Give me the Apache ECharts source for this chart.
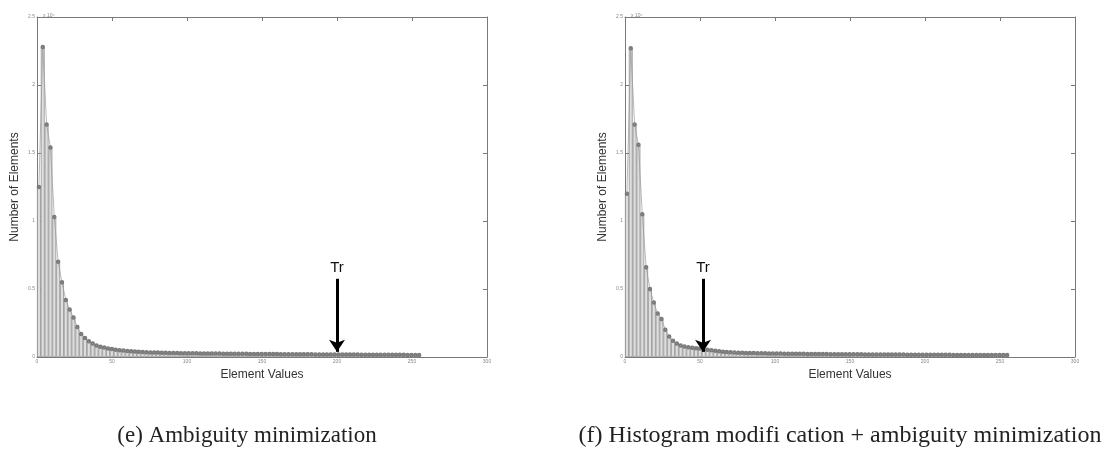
<!DOCTYPE html>
<html>
<head>
<meta charset="utf-8">
<script src="https://cdn.jsdelivr.net/npm/echarts@6/dist/echarts.min.js"></script>
<style>html,body{margin:0;padding:0;background:#fff}#c{width:1107px;height:449px}</style>
</head>
<body>
<div id="c"></div>
<script>
// ---- data ----
const BIN_WIDTH = 2.56;
const leftCounts = [12500, 22800, 17100, 15400, 10300, 7000, 5500, 4200, 3500, 2900,
 2200, 1700, 1400, 1150, 1000, 850, 760, 700, 630, 580,
 530, 500, 470, 440, 420, 400, 380, 365, 350, 340,
 330, 322, 315, 308, 300, 295, 290, 284, 280, 276,
 272, 268, 265, 261, 258, 255, 252, 249, 246, 243,
 240, 237, 235, 232, 230, 227, 225, 222, 220, 218,
 216, 214, 212, 210, 208, 206, 204, 202, 200, 198,
 196, 195, 193, 191, 190, 188, 186, 185, 183, 182,
 180, 178, 177, 175, 174, 172, 171, 169, 168, 166,
 165, 163, 162, 160, 159, 157, 156, 154, 153, 150];
const rightCounts = [12000, 22700, 17100, 15600, 10500, 6600, 5000, 4000, 3200, 2800,
 2000, 1500, 1200, 1000, 850, 780, 720, 680, 650, 620,
 580, 540, 500, 460, 420, 390, 370, 350, 335, 320,
 310, 302, 295, 288, 282, 276, 270, 265, 260, 256,
 252, 248, 244, 240, 237, 234, 231, 228, 225, 222,
 219, 216, 214, 211, 209, 206, 204, 202, 200, 198,
 196, 194, 192, 190, 188, 186, 184, 183, 181, 179,
 178, 176, 175, 173, 172, 170, 169, 167, 166, 164,
 163, 162, 160, 159, 158, 156, 155, 154, 152, 151,
 150, 149, 148, 146, 145, 144, 143, 142, 141, 140];
const xTicks = [0, 50, 100, 150, 200, 250, 300];
const yTicks = [0, 5000, 10000, 15000, 20000, 25000];
const thresholdLeft = 200;
const thresholdRight = 52;
const arrowTop = 5750;
const arrowBottom = 380;
const captions = ['(e) Ambiguity minimization', '(f) Histogram modifi cation + ambiguity minimization'];
const xTitle = 'Element Values';
const yTitle = 'Number of Elements';
const yExp = 'x 10\u2074';

// ---- build ----
const chart = echarts.init(document.getElementById('c'), null, {renderer: 'canvas'});
const toPairs = arr => arr.map((v, i) => [(i + 0.5) * BIN_WIDTH, v]);
const FONT = 'Liberation Sans, Arial, sans-serif';
const SERIF = 'Liberation Serif, Times New Roman, serif';
const axisGray = '#7a7a7a';

function xAxes(gi) {
  return [{
    type: 'value', gridIndex: gi, min: xTicks[0], max: xTicks[xTicks.length - 1], interval: 50,
    position: 'bottom',
    name: xTitle, nameLocation: 'middle', nameGap: 12,
    nameTextStyle: {fontFamily: FONT, fontSize: 12, color: '#333'},
    axisLine: {show: true, onZero: false, lineStyle: {color: axisGray, width: 1}},
    axisTick: {inside: true, length: 4, lineStyle: {color: axisGray}},
    axisLabel: {fontSize: 5, color: '#888', margin: 2, fontFamily: FONT},
    splitLine: {show: false}
  }, {
    type: 'value', gridIndex: gi, min: xTicks[0], max: xTicks[xTicks.length - 1], interval: 50,
    position: 'top',
    axisLine: {show: true, onZero: false, lineStyle: {color: axisGray, width: 1}},
    axisTick: {show: true, inside: true, length: 4, lineStyle: {color: axisGray}},
    axisLabel: {show: false}, splitLine: {show: false}
  }];
}
function yAxes(gi) {
  return [{
    type: 'value', gridIndex: gi, min: yTicks[0], max: yTicks[yTicks.length - 1], interval: 5000,
    position: 'left',
    name: yTitle, nameLocation: 'middle', nameGap: 16,
    nameTextStyle: {fontFamily: FONT, fontSize: 12, color: '#333'},
    axisLine: {show: true, onZero: false, lineStyle: {color: axisGray, width: 1}},
    axisTick: {show: true, inside: true, length: 4, lineStyle: {color: axisGray}},
    axisLabel: {fontSize: 5, color: '#888', margin: 2, fontFamily: FONT,
      formatter: v => String(v / 10000)},
    splitLine: {show: false}
  }, {
    type: 'value', gridIndex: gi, min: yTicks[0], max: yTicks[yTicks.length - 1], interval: 5000,
    position: 'right',
    axisLine: {show: true, onZero: false, lineStyle: {color: axisGray, width: 1}},
    axisTick: {show: true, inside: true, length: 4, lineStyle: {color: axisGray}},
    axisLabel: {show: false}, splitLine: {show: false}
  }];
}
function seriesFor(gi, counts, thr) {
  const data = toPairs(counts);
  return [{
    type: 'bar', xAxisIndex: gi * 2, yAxisIndex: gi * 2, data: data,
    barWidth: 3.8, barGap: '0%',
    itemStyle: {color: '#dedede', borderColor: '#8a8a8a', borderWidth: 0.7},
    silent: true, animation: false,
    markLine: {
      silent: true, animation: false,
      symbol: ['none', 'arrow'], symbolSize: 12,
      lineStyle: {color: '#000', width: 3, type: 'solid'},
      label: {show: true, position: 'start', formatter: 'Tr', fontFamily: FONT, fontSize: 15, color: '#111', distance: 3},
      data: [[{coord: [thr, arrowTop]}, {coord: [thr, arrowBottom]}]]
    }
  }, {
    type: 'line', xAxisIndex: gi * 2, yAxisIndex: gi * 2, data: data,
    symbol: 'emptyCircle', symbolSize: 2.5, showSymbol: true,
    itemStyle: {color: '#7a7a7a', borderWidth: 0.6},
    lineStyle: {color: '#999', width: 0.7},
    silent: true, animation: false, z: 3
  }];
}

const option = {
  backgroundColor: '#fff',
  animation: false,
  grid: [
    {left: 37, top: 17, width: 450, height: 340},
    {left: 625, top: 17, width: 450, height: 340}
  ],
  xAxis: [...xAxes(0), ...xAxes(1)],
  yAxis: [...yAxes(0), ...yAxes(1)],
  title: [
    {text: yExp, left: 38, top: 8, textStyle: {fontSize: 5, color: '#888', fontWeight: 'normal', fontFamily: FONT}},
    {text: yExp, left: 626, top: 8, textStyle: {fontSize: 5, color: '#888', fontWeight: 'normal', fontFamily: FONT}},
    {text: captions[0], left: 242, top: 419, textAlign: 'center',
      textStyle: {fontSize: 23, color: '#222', fontWeight: 'normal', fontFamily: SERIF}},
    {text: captions[1], left: 835, top: 419, textAlign: 'center',
      textStyle: {fontSize: 24, color: '#222', fontWeight: 'normal', fontFamily: SERIF}}
  ],
  series: [...seriesFor(0, leftCounts, thresholdLeft), ...seriesFor(1, rightCounts, thresholdRight)]
};
chart.setOption(option);
</script>
</body>
</html>
